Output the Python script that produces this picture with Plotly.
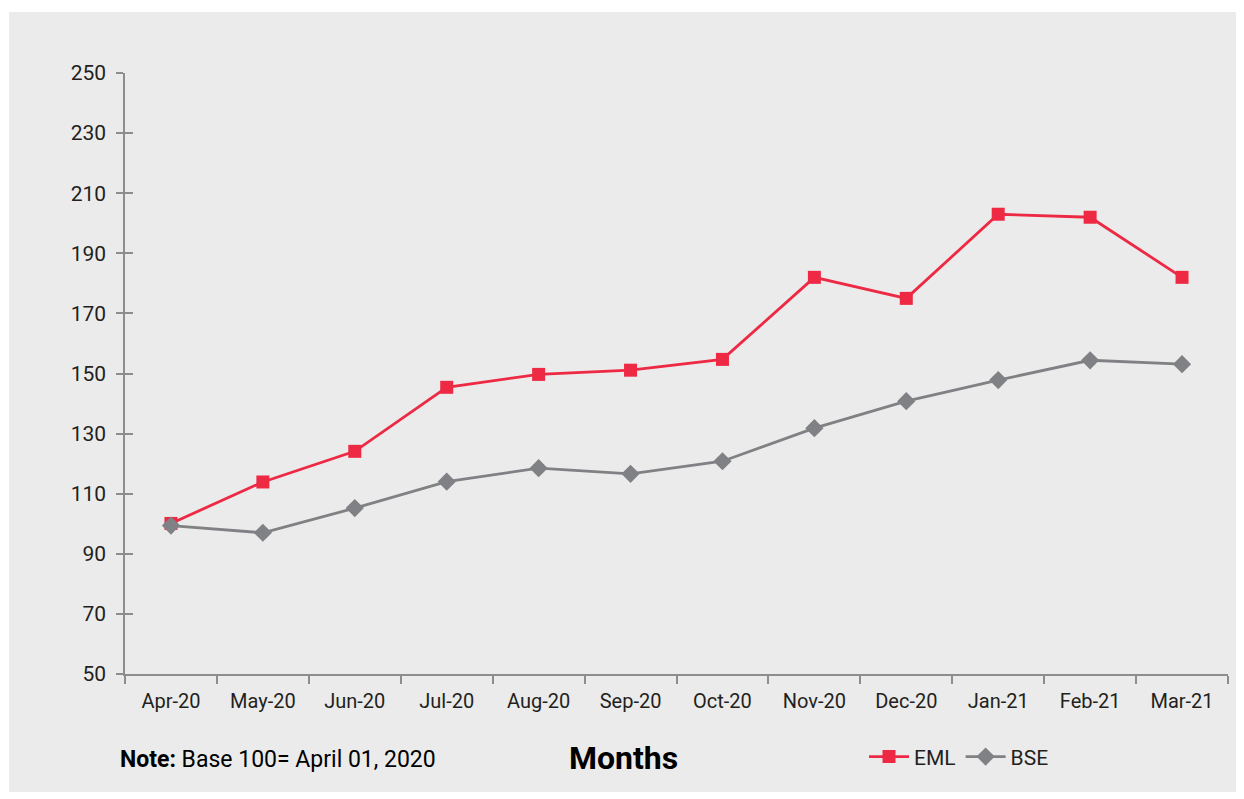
import plotly.graph_objects as go

months = ["Apr-20", "May-20", "Jun-20", "Jul-20", "Aug-20", "Sep-20",
          "Oct-20", "Nov-20", "Dec-20", "Jan-21", "Feb-21", "Mar-21"]
eml = [100.1, 113.9, 124.1, 145.4, 149.7, 151.1, 154.7, 182.0, 175.0, 203.0, 202.0, 182.0]
bse = [99.4, 97.0, 105.2, 114.0, 118.5, 116.6, 120.8, 131.8, 140.8, 147.8, 154.4, 153.1]
y_ticks = [50, 70, 90, 110, 130, 150, 170, 190, 210, 230, 250]

RED = "#ee2944"
GRAY = "#808184"
AXIS = "#8d8d8d"
BG = "#ebebeb"
FONT = "Roboto"

fig = go.Figure()
fig.add_trace(go.Scatter(x=months, y=eml, name="EML", mode="lines+markers",
                         line=dict(color=RED, width=2.8),
                         marker=dict(symbol="square", size=13, color=RED)))
fig.add_trace(go.Scatter(x=months, y=bse, name="BSE", mode="lines+markers",
                         line=dict(color=GRAY, width=2.8),
                         marker=dict(symbol="diamond", size=14, color=GRAY)))
# invisible trace to enable the second (inside-tick) y axis
fig.add_trace(go.Scatter(x=[months[0]], y=[y_ticks[0]], yaxis="y2", mode="markers",
                         marker=dict(opacity=0), showlegend=False, hoverinfo="skip"))

fig.update_layout(
    width=1244, height=799,
    margin=dict(l=117, r=24, t=65, b=133),
    paper_bgcolor="white",
    plot_bgcolor=BG,
    font=dict(family=FONT, size=20, color="#231f20"),
    xaxis=dict(type="category", range=[-0.5, 11.5], showgrid=False, zeroline=False,
               showline=True, linecolor=AXIS, linewidth=1.5,
               ticks="outside", tickson="boundaries", ticklen=8, tickcolor=AXIS,
               tickwidth=1.5, ticklabelstandoff=8,
               tickfont=dict(family=FONT, size=20, color="#231f20")),
    yaxis=dict(range=[50, 250], tickvals=y_ticks, showgrid=False, zeroline=False,
               showline=True, linecolor=AXIS, linewidth=1.5,
               ticks="outside", ticklen=7, tickcolor=AXIS, tickwidth=1.5,
               ticklabelstandoff=6,
               tickfont=dict(family=FONT, size=21, color="#231f20")),
    yaxis2=dict(range=[50, 250], tickvals=y_ticks, overlaying="y", side="left",
                showgrid=False, zeroline=False, showline=False,
                ticks="inside", ticklen=8, tickcolor=AXIS, tickwidth=1.5,
                showticklabels=False),
    legend=dict(orientation="h", x=0.67, y=-0.138, xanchor="left", yanchor="middle",
                bgcolor="rgba(0,0,0,0)", font=dict(family=FONT, size=21, color="#231f20"),
                itemwidth=40, tracegroupgap=0),
    showlegend=True,
    shapes=[dict(type="rect", xref="paper", yref="paper", layer="below",
                 x0=-0.1052, x1=1.0127, y0=-0.1963, y1=1.1015,
                 fillcolor=BG, line=dict(width=0))],
    annotations=[
        dict(text="<b>Note:</b> Base 100= April 01, 2020", xref="paper", yref="paper",
             x=-0.0063, y=-0.143, xanchor="left", yanchor="middle", showarrow=False,
             font=dict(family=FONT, size=23, color="#000000")),
        dict(text="<b>Months</b>", xref="paper", yref="paper",
             x=0.4524, y=-0.14, xanchor="center", yanchor="middle", showarrow=False,
             font=dict(family=FONT, size=32, color="#000000")),
    ],
)

fig.write_html("out.html")
